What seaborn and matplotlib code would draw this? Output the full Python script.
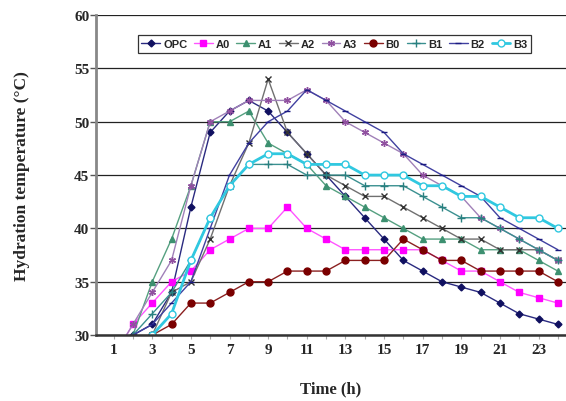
import pandas as pd
import seaborn as sns
from matplotlib import pyplot as plt

hours = list(range(1, 25))

opc = [28, 30, 31, 34, 42, 49, 51, 52, 51, 49, 47, 45, 43, 41, 39, 37, 36, 35, 34.5, 34, 33, 32, 31.5, 31]
a0 = [28, 31, 33, 35, 36, 38, 39, 40, 40, 42, 40, 39, 38, 38, 38, 38, 38, 37, 36, 36, 35, 34, 33.5, 33]
a1 = [28, 30, 35, 39, 44, 50, 50, 51, 48, 47, 46, 44, 43, 42, 41, 40, 39, 39, 39, 38, 38, 38, 37, 36]
a2 = [27, 29, 30, 34, 35, 39, 44, 48, 54, 49, 47, 45, 44, 43, 43, 42, 41, 40, 39, 39, 38, 38, 38, 37]
a3 = [28, 31, 34, 37, 44, 50, 51, 52, 52, 52, 53, 52, 50, 49, 48, 47, 45, 44, 43, 41, 40, 39, 38, 37]
b0 = [28, 29, 30, 31, 33, 33, 34, 35, 35, 36, 36, 36, 37, 37, 37, 39, 38, 37, 37, 36, 36, 36, 36, 35]
b1 = [27, 30, 32, 34, 37, 41, 44, 46, 46, 46, 45, 45, 45, 44, 44, 44, 43, 42, 41, 41, 40, 39, 38, 37]
b2 = [27, 30, 31, 33, 35, 40, 45, 48, 50, 51, 53, 52, 51, 50, 49, 47, 46, 45, 44, 43, 41, 40, 39, 38]
b3 = [27, 29, 30, 32, 37, 41, 44, 46, 47, 47, 46, 46, 46, 45, 45, 45, 44, 44, 43, 43, 42, 41, 41, 40]

series = {'OPC': opc, 'A0': a0, 'A1': a1, 'A2': a2, 'A3': a3,
          'B0': b0, 'B1': b1, 'B2': b2, 'B3': b3}

# line colour, marker, marker colour, marker size, line width, marker fill
styles = {
    'OPC': ('#2a2a80', 'D', '#101060', 3.5, 1.0, 'full'),
    'A0': ('#ff55ff', 's', '#ff00ff', 5, 1.0, 'full'),
    'A1': ('#55a080', '^', '#3d9070', 5, 1.0, 'full'),
    'A2': ('#707070', 'x', '#333333', 5, 1.0, 'full'),
    'A3': ('#a080b8', (6, 2, 0), '#9050a0', 5, 1.0, 'full'),
    'B0': ('#8b2020', 'o', '#7a0000', 5, 1.0, 'full'),
    'B1': ('#3a9090', '+', '#2a8080', 6, 1.0, 'full'),
    'B2': ('#4040a0', '_', '#1a1a80', 5, 1.0, 'full'),
    'B3': ('#30c8e0', 'o', '#30c8e0', 5, 2.0, 'none'),
}

df = pd.DataFrame(series, index=hours)
df.index.name = 'Hour'

sns.set_style('white')
plt.rcParams['font.family'] = ['Liberation Serif', 'DejaVu Serif']

fig = plt.figure(figsize=(5.66, 4.02), dpi=100)
ax = fig.add_axes([0.17, 0.164, 0.83, 0.796])

for name in series:
    col, mk, mcol, ms, lw, fill = styles[name]
    sns.lineplot(x=df.index, y=df[name], ax=ax, color=col, linewidth=lw,
                 marker=mk, markersize=ms, markerfacecolor=mcol if fill == 'full' else 'white',
                 markeredgecolor=mcol, markeredgewidth=1.0, label=name)

ax.set_xlim(0.1, 24.42)
ax.set_ylim(30, 60)
ax.set_yticks([30, 35, 40, 45, 50, 55, 60])
ax.set_xticks(hours)
ax.set_xticklabels([str(h) if h % 2 == 1 else '' for h in hours])
ax.grid(axis='y', color='#222222', linewidth=0.9)
ax.set_axisbelow(True)

for s in ['top', 'right']:
    ax.spines[s].set_visible(False)
ax.spines['left'].set_color('#888888')
ax.spines['left'].set_linewidth(2)
ax.spines['bottom'].set_color('#333333')
ax.spines['bottom'].set_linewidth(1.8)

ax.tick_params(axis='y', left=True, length=4, width=1, color='#555555', pad=1, labelsize=11)
ax.tick_params(axis='x', bottom=True, length=3, width=0.8, color='#aaaaaa', pad=3, labelsize=11)
for lab in ax.get_xticklabels() + ax.get_yticklabels():
    lab.set_fontweight('bold')

ax.set_xlabel('Time (h)', fontsize=12, fontweight='bold', labelpad=17)
ax.set_ylabel('Hydration temperature (°C)', fontsize=12.5, fontweight='bold', labelpad=32)

leg = ax.legend(loc='upper center', bbox_to_anchor=(0.507, 0.955), ncol=9, frameon=True,
                fancybox=False, edgecolor='black', handlelength=1.7, handletextpad=0.25,
                columnspacing=0.6, borderpad=0.35,
                prop={'family': 'Liberation Sans', 'weight': 'bold', 'size': 8})
leg.get_frame().set_linewidth(0.9)

fig.savefig('out.png', dpi=100)
